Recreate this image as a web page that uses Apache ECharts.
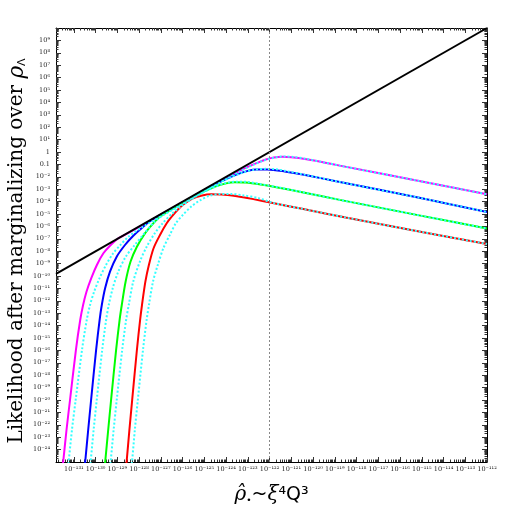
<!DOCTYPE html>
<html>
<head>
<meta charset="utf-8">
<script src="https://cdn.jsdelivr.net/npm/echarts@6/dist/echarts.min.js"></script>
<style>
  html, body { margin: 0; padding: 0; background: #fff; }
  #chart { width: 518px; height: 518px; }
</style>
</head>
<body>
<div id="chart"></div>
<script>
  // every number below is log10 of the plotted quantity
  const xRange = [-131.82, -112];
  const yRange = [-25, 10];
  const xTicks = [-131, -130, -129, -128, -127, -126, -125, -124, -123, -122,
    -121, -120, -119, -118, -117, -116, -115, -114, -113, -112];
  const yTicks = [-24, -23, -22, -21, -20, -19, -18, -17, -16, -15, -14, -13,
    -12, -11, -10, -9, -8, -7, -6, -5, -4, -3, -2, -1, 0, 1, 2, 3, 4, 5, 6, 7, 8, 9];
  const markerX = -122;

  const envelope = [[-131.82, -9.82], [-112, 10]];

  const magenta = [[-131.52, -25.5], [-131.484, -24.9], [-131.337, -22.42], [-131.176, -20],
    [-130.905, -15.97], [-130.707, -13.55], [-130.574, -12.34], [-130.418, -11.27],
    [-130.202, -10.19], [-129.94, -9.11], [-129.641, -8.17], [-129.337, -7.56],
    [-128.956, -6.96], [-128.726, -6.75], [-127.5, -5.55], [-126, -4.06], [-124.5, -2.57],
    [-123.5, -1.62], [-123.0, -1.2], [-122.6, -0.9], [-122.2, -0.62], [-121.8, -0.45],
    [-121.4, -0.39], [-121.0, -0.42], [-120.3, -0.58], [-119.5, -0.84], [-118.77, -1.1],
    [-115, -2.38], [-112, -3.41]];
  const magentaAlt = [[-131.27, -25.5], [-131.234, -24.9], [-131.087, -22.42], [-130.916, -20],
    [-130.625, -15.97], [-130.407, -13.55], [-130.254, -12.34], [-130.068, -11.27],
    [-129.822, -10.19], [-129.52, -9.11], [-129.191, -8.17], [-128.887, -7.56],
    [-128.5, -6.85], [-127.8, -6.0], [-126.5, -4.65], [-125, -3.14], [-124, -2.16],
    [-123.3, -1.5], [-122.7, -1.0], [-122.2, -0.65], [-121.7, -0.43], [-121.3, -0.36],
    [-120.9, -0.4], [-120.3, -0.56], [-119.5, -0.84], [-118.77, -1.1], [-115, -2.38],
    [-112, -3.41]];

  const blue = [[-130.51, -25.5], [-130.473, -24.9], [-130.34, -22.42], [-130.206, -20],
    [-129.976, -15.97], [-129.815, -13.55], [-129.714, -12.34], [-129.562, -10.99],
    [-129.337, -9.65], [-129.029, -8.44], [-128.648, -7.5], [-128.266, -6.75],
    [-127.806, -6.02], [-127.42, -5.48], [-126.5, -4.56], [-125.5, -3.57], [-124.6, -2.7],
    [-124.0, -2.18], [-123.5, -1.8], [-123.0, -1.52], [-122.6, -1.41], [-122.1, -1.41],
    [-121.3, -1.57], [-120.3, -1.88], [-118.77, -2.42], [-115, -3.73], [-112, -4.84]];
  const blueAlt = [[-130.26, -25.5], [-130.223, -24.9], [-130.09, -22.42], [-129.946, -20],
    [-129.696, -15.97], [-129.515, -13.55], [-129.394, -12.34], [-129.212, -10.99],
    [-128.957, -9.65], [-128.609, -8.44], [-128.198, -7.5], [-127.846, -6.75],
    [-127.3, -5.64], [-126.9, -5.1], [-126.4, -4.6], [-125.5, -3.65], [-124.5, -2.67],
    [-123.8, -2.05], [-123.2, -1.65], [-122.7, -1.43], [-122.2, -1.36], [-121.7, -1.4],
    [-121.3, -1.52], [-120.3, -1.86], [-118.77, -2.42], [-115, -3.73], [-112, -4.84]];

  const green = [[-129.59, -25.5], [-129.553, -24.9], [-129.42, -22.42], [-129.287, -20],
    [-129.057, -15.97], [-128.896, -13.55], [-128.795, -12.34], [-128.62, -10.46],
    [-128.395, -8.85], [-128.1, -7.64], [-127.728, -6.56], [-127.347, -5.75],
    [-127.038, -5.22], [-126.4, -4.52], [-125.6, -3.72], [-125.0, -3.17], [-124.5, -2.78],
    [-124.0, -2.53], [-123.6, -2.44], [-123.1, -2.46], [-122.4, -2.62], [-121.5, -2.9],
    [-120.5, -3.24], [-118.77, -3.86], [-115, -5.15], [-112, -6.17]];
  const greenAlt = [[-129.34, -25.5], [-129.303, -24.9], [-129.17, -22.42], [-129.027, -20],
    [-128.777, -15.97], [-128.596, -13.55], [-128.475, -12.34], [-128.27, -10.46],
    [-127.965, -8.85], [-127.65, -7.64], [-127.28, -6.56], [-126.92, -5.75], [-126.5, -5.0],
    [-126.0, -4.3], [-125.3, -3.5], [-124.6, -2.88], [-124.0, -2.5], [-123.5, -2.39],
    [-123.0, -2.42], [-122.4, -2.6], [-121.5, -2.88], [-120.5, -3.24], [-118.77, -3.86],
    [-115, -5.15], [-112, -6.17]];

  const red = [[-128.61, -25.5], [-128.569, -24.9], [-128.445, -22.42], [-128.317, -20],
    [-128.1, -15.97], [-127.953, -13.55], [-127.866, -12.34], [-127.71, -10.46],
    [-127.549, -9.11], [-127.333, -7.76], [-127.038, -6.69], [-126.73, -5.75],
    [-126.5, -5.22], [-126.2, -4.62], [-125.9, -4.15], [-125.5, -3.72], [-125.1, -3.5],
    [-124.7, -3.41], [-124.2, -3.42], [-123.5, -3.56], [-122.8, -3.78], [-121.85, -4.12],
    [-120.5, -4.58], [-118.5, -5.28], [-115, -6.45], [-112, -7.42]];
  const redAlt = [[-128.36, -25.5], [-128.319, -24.9], [-128.195, -22.42], [-128.057, -20],
    [-127.82, -15.97], [-127.653, -13.55], [-127.546, -12.34], [-127.36, -10.46],
    [-127.139, -9.11], [-126.883, -7.76], [-126.588, -6.69], [-126.31, -5.75],
    [-126.0, -5.1], [-125.6, -4.4], [-125.2, -3.9], [-124.8, -3.55], [-124.3, -3.38],
    [-123.8, -3.38], [-123.2, -3.5], [-122.5, -3.72], [-121.85, -4.1], [-120.5, -4.58],
    [-118.5, -5.28], [-115, -6.45], [-112, -7.42]];

  const SUP = { '-': '\u207b', '0': '\u2070', '1': '\u00b9', '2': '\u00b2', '3': '\u00b3',
    '4': '\u2074', '5': '\u2075', '6': '\u2076', '7': '\u2077', '8': '\u2078', '9': '\u2079' };

  function powLabel(v) {
    const n = Math.round(v);
    if (n === 0) return '1';
    if (n === -1) return '0.1';
    return '10' + String(n).split('').map(c => SUP[c]).join('');
  }

  // log-style minor ticks between the decades
  function minorTicks(range) {
    const out = [];
    for (let n = Math.floor(range[0]); n < range[1]; n++) {
      for (let k = 2; k <= 9; k++) {
        const v = n + Math.log10(k);
        if (v > range[0] && v < range[1]) out.push(v);
      }
    }
    return out;
  }

  const labelFont = { fontSize: 6.5, fontFamily: 'DejaVu Serif', color: '#222' };

  function frameAxis(position, range, ticks, len, withLine, withLabel, extra) {
    return Object.assign({
      type: 'value',
      position: position,
      min: range[0],
      max: range[1],
      splitLine: { show: false },
      axisLine: { show: withLine, onZero: false, lineStyle: { color: '#000', width: 1 } },
      axisTick: { show: true, inside: true, length: len, customValues: ticks,
        lineStyle: { color: '#333', width: 1 } },
      axisLabel: withLabel
        ? Object.assign({ show: true, customValues: ticks, formatter: powLabel }, labelFont)
        : { show: false }
    }, extra || {});
  }

  const chart = echarts.init(document.getElementById('chart'));

  function curve(data, color) {
    return {
      type: 'line', data: data, showSymbol: false, smooth: 0.3,
      lineStyle: { color: color, width: 2 }, silent: true
    };
  }
  function dotted(data) {
    return {
      type: 'line', data: data, showSymbol: false, smooth: 0.3,
      lineStyle: { color: '#33ffff', width: 2, type: [2, 2] }, silent: true
    };
  }

  chart.setOption({
    animation: false,
    backgroundColor: '#fff',
    grid: { left: 56, top: 28, right: 31, bottom: 56, containLabel: false, outerBoundsMode: 'none' },
    xAxis: [
      frameAxis('bottom', xRange, xTicks, 5, true, true, {
        axisLabel: Object.assign({ show: true, customValues: xTicks, formatter: powLabel, margin: 4 }, labelFont),
        name: '{i|\u03c1\u0302}{s|\u2022}{n|~}{i|\u03be}{n|\u2074Q\u00b3}',
        nameLocation: 'middle',
        nameGap: 23,
        nameMoveOverlap: false,
        nameTextStyle: {
          rich: {
            i: { fontFamily: 'DejaVu Serif', fontStyle: 'italic', fontSize: 20, color: '#000' },
            s: { fontFamily: 'DejaVu Sans', fontSize: 9, color: '#000', verticalAlign: 'bottom', padding: [6, 0, 0, 0] },
            n: { fontFamily: 'DejaVu Sans', fontSize: 19, color: '#000' }
          }
        }
      }),
      frameAxis('bottom', xRange, minorTicks(xRange), 2.5, false, false),
      frameAxis('top', xRange, xTicks, 5, true, false),
      frameAxis('top', xRange, minorTicks(xRange), 2.5, false, false)
    ],
    yAxis: [
      frameAxis('left', yRange, yTicks, 5, true, true, {
        axisLabel: Object.assign({ show: true, customValues: yTicks, formatter: powLabel, margin: 6 }, labelFont),
        name: '{n|Likelihood after marginalizing over }{i|\u03c1}{s|\u039b}',
        nameLocation: 'middle',
        nameGap: 28,
        nameMoveOverlap: false,
        nameTextStyle: {
          padding: [0, 12, 0, 0],
          rich: {
            n: { fontFamily: 'DejaVu Serif', fontSize: 20, color: '#000' },
            i: { fontFamily: 'DejaVu Serif', fontStyle: 'italic', fontSize: 21.5, color: '#000' },
            s: { fontFamily: 'DejaVu Sans', fontSize: 11, color: '#000', verticalAlign: 'bottom' }
          }
        }
      }),
      frameAxis('left', yRange, minorTicks(yRange), 2.5, false, false),
      frameAxis('right', yRange, yTicks, 5, true, false),
      frameAxis('right', yRange, minorTicks(yRange), 2.5, false, false)
    ],
    series: [
      curve(magenta, '#ff00ff'),
      curve(blue, '#0000ff'),
      curve(green, '#00ff00'),
      curve(red, '#ff0000'),
      dotted(magentaAlt),
      dotted(blueAlt),
      dotted(greenAlt),
      dotted(redAlt),
      {
        type: 'line', data: envelope, showSymbol: false, silent: true,
        lineStyle: { color: '#000', width: 2 },
        markLine: {
          silent: true, symbol: 'none', label: { show: false },
          lineStyle: { color: '#888', width: 1, type: [2, 2] },
          data: [{ xAxis: markerX }]
        }
      }
    ]
  });
</script>
</body>
</html>
